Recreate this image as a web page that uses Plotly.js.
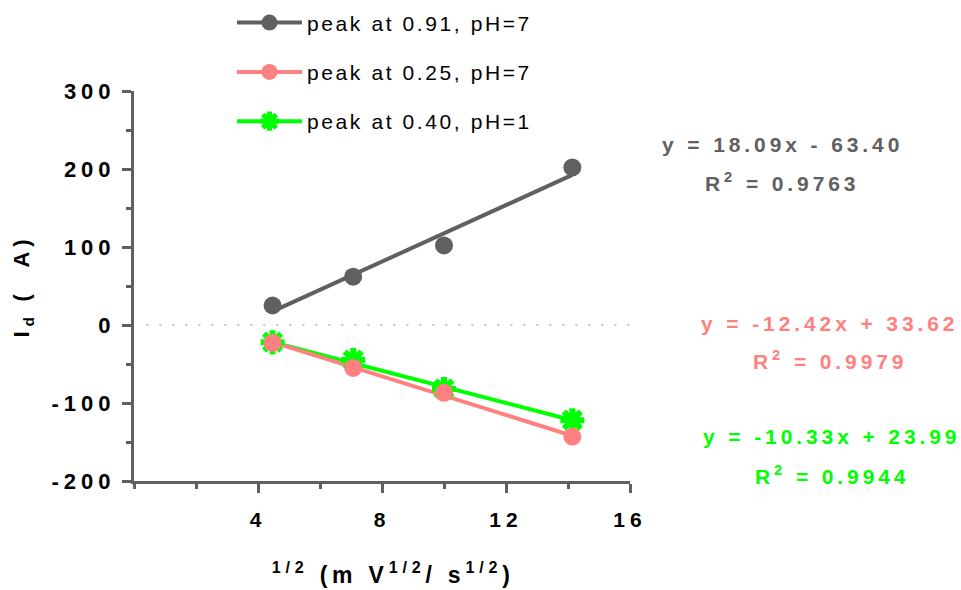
<!DOCTYPE html>
<html><head><meta charset="utf-8">
<script src="https://cdn.plot.ly/plotly-3.0.1.min.js"></script>
<style>
body{margin:0;background:#fff}
#chart{width:961px;height:590px}
.xtick text,.ytick text{letter-spacing:5px}
.legendtext{letter-spacing:2.6px}
.annotation-text{letter-spacing:3.9px}
.g-xtitle text,.g-ytitle text{letter-spacing:4.8px}
</style></head><body><div id="chart"></div>
<script>
const seriesNames=['peak at 0.91, pH=7','peak at 0.25, pH=7','peak at 0.40, pH=1'];
const seriesColors=['#606060','#FF8080','#00FF00'];
const sqrtScanRate=[4.47,7.07,10.0,14.14];
const peak091=[25,62,102,202];
const peak025=[-23,-55,-87,-143];
const peak040=[-22,-45,-82,-122];
const fitSlope=[18.09,-12.42,-10.33];
const fitIntercept=[-63.40,33.62,23.99];
const fitR2=['0.9763','0.9979','0.9944'];
const xTicks=[4,8,12,16];
const yTicks=[-200,-100,0,100,200,300];

const FONT='"Liberation Sans", Arial, sans-serif';
const seriesY=[peak091,peak025,peak040];

function fitTrace(i){
  const xs=[sqrtScanRate[0],sqrtScanRate[sqrtScanRate.length-1]];
  return {x:xs,y:xs.map(v=>fitSlope[i]*v+fitIntercept[i]),mode:'lines',
    line:{color:seriesColors[i],width:4},showlegend:false,hoverinfo:'skip'};
}
function markerStyle(i,big){
  return i===2?{symbol:'asterisk-open',size:big?20:16,color:seriesColors[i],line:{color:seriesColors[i],width:6}}
              :{symbol:'circle',size:18,color:seriesColors[i],line:{width:0}};
}
function pointTrace(i){
  return {x:sqrtScanRate,y:seriesY[i],mode:'markers',marker:markerStyle(i,true),showlegend:false};
}
function legendTrace(i){
  return {x:[null],y:[null],mode:'lines+markers',name:seriesNames[i],legendgroup:'g'+i,
    line:{color:seriesColors[i],width:4},marker:markerStyle(i,false)};
}
const data=[fitTrace(0),fitTrace(2),fitTrace(1),pointTrace(0),pointTrace(2),pointTrace(1),
  legendTrace(0),legendTrace(1),legendTrace(2)];

function eq(i){
  const s=fitSlope[i].toFixed(2), b=fitIntercept[i];
  return 'y = '+s+'x '+(b<0?'- ':'+ ')+Math.abs(b).toFixed(2);
}
const annPos=[[1.308,0.862,1.306,0.767],[1.403,0.405,1.403,0.310],[1.407,0.113,1.407,0.015]];
const annotations=[];
for(let i=0;i<3;i++){
  const p=annPos[i];
  annotations.push({xref:'paper',yref:'paper',x:p[0],y:p[1],xanchor:'center',yanchor:'middle',showarrow:false,
    text:eq(i),font:{family:FONT,size:21,weight:'bold',color:seriesColors[i]}});
  annotations.push({xref:'paper',yref:'paper',x:p[2],y:p[3],xanchor:'center',yanchor:'middle',showarrow:false,
    text:'R<sup>2</sup> = '+fitR2[i],font:{family:FONT,size:21,weight:'bold',color:seriesColors[i]}});
}

const layout={
  width:961,height:590,margin:{l:134,r:331,t:91,b:109,autoexpand:false},
  paper_bgcolor:'#fff',plot_bgcolor:'#fff',
  font:{family:FONT,color:'#000'},
  showlegend:true,
  legend:{x:0.1976,y:1.227,xanchor:'left',yanchor:'top',traceorder:'grouped',tracegroupgap:19,itemwidth:65,
    font:{family:FONT,size:21,color:'#000'},bgcolor:'rgba(0,0,0,0)'},
  xaxis:{range:[0,16],showgrid:false,zeroline:false,showline:true,linecolor:'#606060',linewidth:3,
    ticks:'outside',ticklen:9,tickwidth:3,tickcolor:'#606060',tickvals:xTicks,ticktext:xTicks.map(String),
    ticklabelstandoff:9,automargin:false,
    tickfont:{family:FONT,size:21,weight:'bold',color:'#000'},
    minor:{dtick:2,tick0:0,ticks:'outside',ticklen:5,tickwidth:3,tickcolor:'#606060',showgrid:false},
    title:{text:'\u200B\u00A0\u00A0<sup>1/2</sup> (m V<sup>1/2</sup>/ s<sup>1/2</sup>)',standoff:37,
      font:{family:FONT,size:23,weight:'bold',color:'#000'}}},
  yaxis:{range:[-200,300],showgrid:false,zeroline:false,showline:true,linecolor:'#606060',linewidth:3,
    ticks:'outside',ticklen:9,tickwidth:3,tickcolor:'#606060',tickvals:yTicks,ticktext:yTicks.map(String),
    ticklabelstandoff:2,automargin:false,
    tickfont:{family:FONT,size:22,weight:'bold',color:'#000'},
    minor:{dtick:50,tick0:0,ticks:'outside',ticklen:5,tickwidth:3,tickcolor:'#606060',showgrid:false},
    title:{text:'I<sub>d</sub> (\u00A0\u00A0A)',standoff:16,
      font:{family:FONT,size:22,weight:'bold',color:'#000'}}},
  shapes:[{type:'line',xref:'x',yref:'y',x0:0.4,x1:16,y0:0,y1:0,layer:'below',
    line:{color:'#c4c4c4',width:2,dash:'2px,11px'}}],
  annotations:annotations
};
Plotly.newPlot('chart',data,layout,{displayModeBar:false,staticPlot:true});
</script></body></html>
